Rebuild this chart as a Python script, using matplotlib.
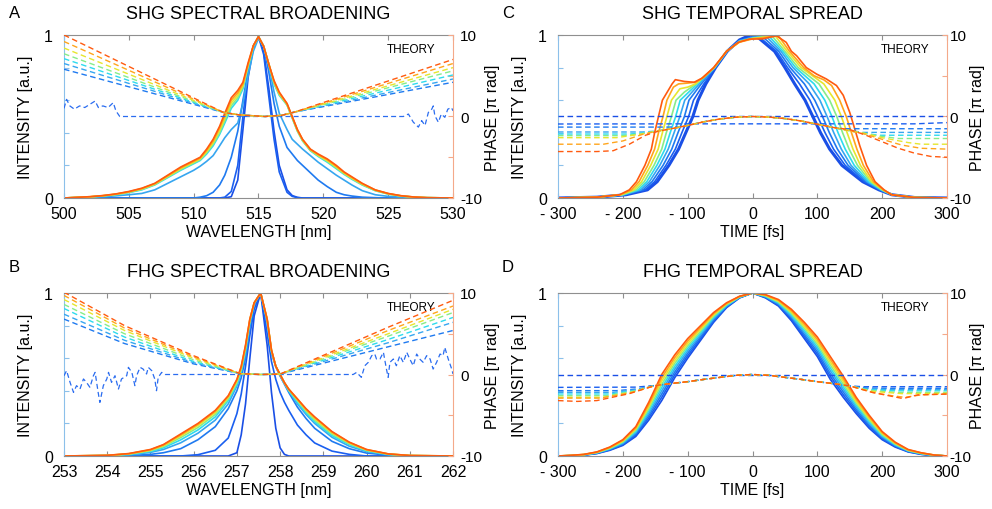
import numpy as np
import matplotlib
matplotlib.use("Agg")
import matplotlib.pyplot as plt

plt.rcParams['font.family'] = ['Liberation Sans', 'DejaVu Sans']

# ------------------------------------------------------------------ labels
panel_titles = ['SHG SPECTRAL BROADENING', 'FHG SPECTRAL BROADENING',
                'SHG TEMPORAL SPREAD', 'FHG TEMPORAL SPREAD']
panel_letters = ['A', 'B', 'C', 'D']
wl_label = 'WAVELENGTH [nm]'
time_label = 'TIME [fs]'
int_label = 'INTENSITY [a.u.]'
phase_label = 'PHASE [\u03c0 rad]'
theory_label = 'THEORY'
shg_wl_ticks = [500, 505, 510, 515, 520, 525, 530]
fhg_wl_ticks = [253, 254, 255, 256, 257, 258, 259, 260, 261, 262]
time_ticks = [-300, -200, -100, 0, 100, 200, 300]
time_ticklabels = ['- 300', '- 200', '- 100', '0', '100', '200', '300']
int_ticks = [0, 0.2, 0.4, 0.6, 0.8, 1]
int_ticklabels = ['0', '', '', '', '', '1']
phase_ticks = [-10, -5, 0, 5, 10]
phase_ticklabels = ['-10', '', '0', '', '10']

# one colour per propagation step (blue -> red)
curve_colors = ['#1a4fe6', '#1a5ff0', '#1f7af0', '#36a6f0', '#2ddbee',
                '#86ec8a', '#e6e62e', '#ffa51c', '#ff5a0f']

# ------------------------------------------------------------------ A: SHG spectrum
shg_wl = [500, 502, 503, 504, 505, 506, 507, 508, 509, 510, 510.5, 511, 511.5, 512,
          512.4, 512.9, 513.4, 513.8, 514.2, 514.6, 515, 515.4, 515.8, 516.2, 516.6,
          517.2, 517.6, 518, 518.4, 519, 519.6, 520.3, 521, 521.6, 522.2, 523, 524,
          525, 526, 527, 528, 530]
shg_spec = [
    [0,0,0,0,0,0,0,0,0,0,0,0,0,0, 0,0.008,0.11,0.42,0.74,0.92,0.99,0.9,0.67,0.41,0.2,0.05,0.015,0.004, 0,0,0,0,0,0,0,0,0,0,0,0,0,0],
    [0,0,0,0,0,0,0,0,0,0,0,0,0,0, 0.005,0.04,0.2,0.5,0.78,0.93,0.99,0.88,0.62,0.36,0.16,0.035,0.01,0.002, 0,0,0,0,0,0,0,0,0,0,0,0,0,0],
    [0,0,0,0,0,0,0,0,0,0, 0.005,0.014,0.035,0.08,0.14,0.25,0.41,0.6,0.78,0.93,0.99,0.93,0.77,0.58,0.44,0.31,0.27,0.23,0.2,0.155,0.11,0.07,0.035,0.02,0.012,0.005,0.002, 0,0,0,0,0],
    [0,0.004,0.008,0.013,0.02,0.028,0.05,0.09,0.13,0.17,0.195,0.225,0.26,0.32,0.37,0.42,0.46,0.58,0.75,0.9,0.98,0.93,0.81,0.65,0.52,0.42,0.36,0.33,0.3,0.26,0.22,0.18,0.14,0.11,0.08,0.045,0.02,0.01,0.005,0.002,0,0],
    [0,0.006,0.012,0.02,0.033,0.05,0.08,0.125,0.17,0.21,0.23,0.27,0.32,0.39,0.46,0.55,0.6,0.67,0.8,0.93,0.99,0.93,0.82,0.7,0.63,0.57,0.49,0.41,0.35,0.29,0.255,0.22,0.18,0.145,0.115,0.08,0.045,0.024,0.012,0.005,0.002,0],
    [0,0.007,0.013,0.021,0.035,0.053,0.083,0.129,0.175,0.215,0.235,0.278,0.33,0.4,0.475,0.566,0.615,0.68,0.81,0.93,0.99,0.93,0.82,0.705,0.635,0.572,0.492,0.412,0.352,0.292,0.259,0.225,0.185,0.149,0.119,0.082,0.046,0.025,0.012,0.005,0.002,0],
    [0,0.007,0.014,0.023,0.037,0.055,0.085,0.133,0.18,0.22,0.24,0.285,0.34,0.415,0.49,0.583,0.63,0.69,0.815,0.932,0.99,0.93,0.82,0.71,0.64,0.575,0.495,0.415,0.355,0.295,0.262,0.23,0.19,0.152,0.122,0.085,0.048,0.026,0.013,0.005,0.002,0],
    [0,0.008,0.014,0.024,0.038,0.058,0.088,0.136,0.185,0.225,0.245,0.293,0.35,0.43,0.505,0.6,0.645,0.7,0.82,0.934,0.99,0.93,0.82,0.715,0.645,0.578,0.498,0.418,0.358,0.298,0.266,0.235,0.195,0.156,0.126,0.088,0.049,0.027,0.013,0.006,0.002,0],
    [0,0.008,0.015,0.025,0.04,0.06,0.09,0.14,0.19,0.23,0.25,0.3,0.36,0.44,0.52,0.615,0.66,0.71,0.83,0.935,0.99,0.93,0.82,0.72,0.65,0.58,0.5,0.42,0.36,0.3,0.27,0.24,0.2,0.16,0.13,0.09,0.05,0.028,0.014,0.006,0.002,0],
]
# measured input phase (flat, noisy outside the spectrum)
shg_noise_wl = [500, 500.2, 500.45, 500.8, 501.2, 501.6, 502.0, 502.4, 502.65, 503.0, 503.4,
                503.8, 504.0, 504.3, 526.17, 526.56, 526.94, 527.33, 527.58, 527.84, 528.1,
                528.36, 528.48, 528.6, 528.87, 529.1, 529.37, 529.6, 529.88, 530]
shg_noise_phase = [1.0, 2.1, 1.3, 0.9, 1.3, 1.1, 1.5, 1.9, 1.1, 1.3, 1.1, 1.7, 0.7, 0.0, 0.0,
                   0.3, -0.7, -1.3, -0.5, -1.1, 0.5, 0.9, 1.3, 0.1, -0.7, 0.3, -0.1, 0.9, 1.1, 0.7]
# V-shaped spectral phases of steps 2..8
shg_phase_left = [5.8, 6.5, 7.1, 7.7, 8.4, 9.2, 10.0]     # at 500 nm
shg_phase_right = [4.2, 4.6, 5.1, 5.6, 6.0, 6.5, 7.0]     # at 530 nm
shg_phase_mid_wl = [512.3, 513.5, 515.5, 516.8, 517.8]
shg_phase_mid = [0.5, 0.2, 0.0, 0.15, 0.55]

# ------------------------------------------------------------------ B: FHG spectrum
fhg_wl = [253, 254, 254.5, 255, 255.3, 255.7, 256.1, 256.5, 256.8, 257.0, 257.1, 257.2,
          257.3, 257.4, 257.55, 257.7, 257.8, 257.9, 258.0, 258.1, 258.2, 258.4, 258.6,
          258.8, 259.2, 259.6, 260.0, 260.5, 261, 262]
fhg_spec = [
    [0,0,0,0,0,0,0,0,0, 0.02,0.13,0.32,0.6,0.86,1.0,0.68,0.39,0.17,0.05,0.01,0, 0,0,0,0,0,0,0,0,0],
    [0,0,0,0,0,0, 0.008,0.035,0.11,0.26,0.38,0.55,0.74,0.9,1.0,0.75,0.58,0.47,0.39,0.33,0.28,0.19,0.13,0.08,0.03,0.01, 0,0,0,0],
    [0,0,0.002,0.01,0.02,0.045,0.1,0.18,0.29,0.4,0.48,0.6,0.79,0.93,1.0,0.82,0.63,0.55,0.49,0.44,0.39,0.3,0.23,0.17,0.09,0.045,0.018,0.005,0,0],
    [0,0.002,0.007,0.022,0.04,0.081,0.14,0.22,0.32,0.43,0.51,0.63,0.81,0.934,1.0,0.83,0.64,0.55,0.495,0.445,0.4,0.32,0.255,0.2,0.115,0.06,0.027,0.008,0.001,0],
    [0,0.002,0.01,0.028,0.05,0.099,0.16,0.24,0.34,0.44,0.52,0.65,0.82,0.936,1.0,0.83,0.64,0.55,0.495,0.445,0.4,0.33,0.265,0.21,0.125,0.07,0.031,0.01,0.002,0],
    [0,0.003,0.012,0.032,0.058,0.113,0.175,0.255,0.35,0.45,0.53,0.66,0.83,0.938,1.0,0.835,0.645,0.55,0.5,0.45,0.405,0.34,0.275,0.22,0.135,0.075,0.035,0.011,0.002,0],
    [0,0.003,0.013,0.036,0.063,0.123,0.187,0.267,0.36,0.46,0.54,0.67,0.835,0.94,1.0,0.84,0.65,0.55,0.5,0.45,0.41,0.345,0.282,0.23,0.142,0.08,0.037,0.012,0.003,0],
    [0,0.004,0.014,0.038,0.068,0.13,0.195,0.275,0.366,0.467,0.546,0.676,0.84,0.94,1.0,0.84,0.65,0.55,0.5,0.45,0.41,0.35,0.287,0.236,0.147,0.083,0.039,0.013,0.003,0],
    [0,0.004,0.015,0.04,0.07,0.135,0.2,0.28,0.37,0.47,0.55,0.68,0.84,0.94,1.0,0.84,0.65,0.55,0.5,0.45,0.41,0.35,0.29,0.24,0.15,0.085,0.04,0.013,0.003,0],
]
fhg_noise_wl = [253.0, 253.06, 253.14, 253.22, 253.29, 253.37, 253.45, 253.52, 253.6, 253.68,
                253.72, 253.79, 253.83, 253.91, 253.99, 254.03, 254.1, 254.18, 254.26, 254.33,
                254.45, 254.49, 254.57, 254.64, 254.68, 254.76, 254.83, 254.91, 254.95, 255.03,
                255.1, 255.14, 255.18, 255.26, 255.34,
                259.69, 259.77, 259.88, 259.96, 260.04, 260.12, 260.19, 260.23, 260.31, 260.39,
                260.46, 260.5, 260.54, 260.62, 260.69, 260.77, 260.85, 260.93, 261.0, 261.08,
                261.16, 261.23, 261.31, 261.39, 261.47, 261.54, 261.62, 261.7, 261.77, 261.81,
                261.89, 261.97, 262.0]
fhg_noise_phase = [-0.15, 0.47, -0.96, -2.19, -1.37, -1.78, -0.55, -0.96, -1.58, -0.15,
                   0.26, -2.19, -3.42, -1.37, -0.55, 0.26, -0.96, -0.15, -1.78, -0.55,
                   -0.15, 0.88, 0.26, -1.37, -0.15, 0.88, 0.67, 0.06, 0.88, 0.47,
                   -0.55, -1.99, -0.35, 0.26, 0.0,
                   0.0, 0.26, -0.35, 1.08, 1.49, 2.31, 2.51, 1.9, 1.9, 2.72,
                   0.67, -0.35, 1.49, 1.9, 1.08, 2.31, 1.49, 2.72, 1.9, 1.08,
                   2.51, 1.9, 1.49, 2.31, 1.9, 0.67, 1.49, 2.51, 2.31, 3.33,
                   1.9, 0.67, 0.06]
fhg_phase_wl = [253, 254.4, 256.0, 257.08, 257.55, 258.0, 260.5, 262]
fhg_phase = [
    [6.8, 3.8, 1.3, 0.1, 0.0, 0.05, 3.4, 5.4],
    [7.4, 4.2, 1.45, 0.1, 0.0, 0.05, 3.9, 6.4],
    [8.1, 4.6, 1.6, 0.1, 0.0, 0.05, 4.3, 7.0],
    [8.6, 5.0, 1.8, 0.1, 0.0, 0.05, 4.7, 7.6],
    [9.2, 5.4, 2.0, 0.1, 0.0, 0.05, 5.0, 8.0],
    [9.7, 5.7, 2.15, 0.1, 0.0, 0.05, 5.4, 8.4],
    [10.1, 6.0, 2.3, 0.1, 0.0, 0.05, 5.8, 9.1],
]

# ------------------------------------------------------------------ C: SHG temporal
shg_time = [
    [-300,-240,-195,-162,-147,-129,-114,-103,-92,-84,-72,-57,-39,-20,-3,10,34,50,65,81,93,105,119,138,170,195,215,250,300],
    [-300,-240,-196,-165.5,-151,-133.5,-119,-109,-98.5,-91,-75,-57.5,-39,-20,0,8,37,54,72.5,88.6,100.4,112,125,143,172.4,196,215,250,300],
    [-300,-240,-198,-169,-155,-138,-124.5,-115,-105,-98,-79,-58,-39,-20,0,14,40.5,58,80,96,108,118.6,131,147.5,175,197,215,250,300],
    [-300,-240,-199,-172.5,-159,-143,-130,-121,-112,-104.5,-82,-58,-39.5,-20,0,20,44,62.5,87.5,104,115,125.4,137,152,177,198,215,250,300],
    [-300,-240,-200,-176,-163,-147.5,-135,-127,-118.5,-111.5,-85,-58.5,-39.5,-20,0,25,47,66.5,95,111.5,122.5,132,143,157,179.5,199,215,250,300],
    [-300,-240,-201,-179.5,-167,-152,-140,-133,-125,-118,-105,-87,-59,-40,-20,0,30,50,70.5,102.5,119,130,139,149,162,182,200,215,250,300],
    [-300,-240,-203,-183,-171,-157,-145.5,-139,-132,-125,-112,-100,-88,-59,-40,-20,0,35,53.5,75,110,127,137,146,155,166.5,184,201,215,250,300],
    [-300,-240,-204,-186.5,-175,-161.5,-151,-145,-138,-132,-122,-114,-100,-88,-75,-59.5,-40,-20,0,40,57,79,95,110,122,134.5,144.6,152.7,161,171,186.6,202,215,250,300],
    [-300,-240,-205,-190,-179,-166,-156,-151,-145,-139,-130,-124,-119,-105,-90,-78,-60,-40,-22,-5,15,37,52,60,68,83,99,114,129.5,140,150,158,165.5,176,189,203,214,250,300],
]
shg_temp = [
    [0,0.005,0.02,0.05,0.1,0.2,0.3,0.4,0.5,0.6,0.7,0.8,0.9,0.97,1.0,0.98,0.9,0.8,0.7,0.6,0.5,0.4,0.3,0.2,0.1,0.05,0.02,0.003,0],
    [0,0.005,0.02,0.05,0.1,0.2,0.3,0.4,0.5,0.6,0.7,0.8,0.9,0.965,0.99,0.995,0.9,0.8,0.7,0.6,0.5,0.4,0.3,0.2,0.1,0.05,0.02,0.003,0],
    [0,0.005,0.02,0.05,0.1,0.2,0.3,0.4,0.5,0.6,0.7,0.8,0.9,0.965,0.985,0.995,0.9,0.8,0.7,0.6,0.5,0.4,0.3,0.2,0.1,0.05,0.02,0.003,0],
    [0,0.005,0.02,0.05,0.1,0.2,0.3,0.4,0.5,0.6,0.7,0.8,0.9,0.965,0.985,0.995,0.9,0.8,0.7,0.6,0.5,0.4,0.3,0.2,0.1,0.05,0.02,0.003,0],
    [0,0.005,0.02,0.05,0.1,0.2,0.3,0.4,0.5,0.6,0.7,0.8,0.9,0.96,0.98,0.995,0.9,0.8,0.7,0.6,0.5,0.4,0.3,0.2,0.1,0.05,0.02,0.003,0],
    [0,0.005,0.02,0.05,0.1,0.2,0.3,0.4,0.5,0.6,0.65,0.7,0.8,0.9,0.96,0.98,0.995,0.9,0.8,0.7,0.6,0.5,0.4,0.3,0.2,0.1,0.05,0.02,0.003,0],
    [0,0.005,0.02,0.05,0.1,0.2,0.3,0.4,0.5,0.6,0.67,0.68,0.7,0.8,0.9,0.958,0.978,0.995,0.9,0.8,0.7,0.6,0.5,0.4,0.3,0.2,0.1,0.05,0.02,0.003,0],
    [0,0.005,0.02,0.05,0.1,0.2,0.3,0.4,0.5,0.6,0.68,0.7,0.705,0.71,0.74,0.8,0.9,0.956,0.976,0.995,0.9,0.8,0.75,0.725,0.69,0.6,0.5,0.4,0.3,0.2,0.1,0.05,0.02,0.003,0],
    [0,0.005,0.02,0.05,0.1,0.2,0.3,0.4,0.5,0.6,0.66,0.7,0.726,0.715,0.71,0.735,0.8,0.9,0.955,0.975,0.976,0.995,0.955,0.9,0.873,0.8,0.76,0.73,0.69,0.63,0.525,0.42,0.32,0.2,0.1,0.05,0.02,0.003,0],
]
# temporal phases
shg_phase_flat_t = [[-300, 300], [-300, -100, 100, 250, 300]]
shg_phase_flat = [[0, 0], [-0.92, -0.9, -0.9, -0.9, -0.75]]
shg_phase2_t = [-300, -130, -110, -100, -75, -50, -25, 0, 25, 50, 75, 100, 115, 135, 300]
shg_phase2 = [-1.3, -1.3, -1.25, -1.1, -0.65, -0.3, -0.08, 0, -0.07, -0.25, -0.55, -0.95, -1.2, -1.5, -1.5]
shg_hump_t = [-125, -100, -75, -50, -25, 0, 25, 50, 75, 100, 125]
shg_hump = [-1.5, -1.1, -0.65, -0.3, -0.08, 0, -0.07, -0.25, -0.55, -0.95, -1.35]
shg_tail_left_t = [[-300, -170, -150], [-300, -190, -165, -145], [-300, -200, -170, -148],
                   [-300, -210, -175, -150], [-300, -230, -200, -170, -150],
                   [-300, -240, -215, -190, -165, -145]]
shg_tail_left = [[-1.9, -1.9, -1.8], [-2.15, -2.15, -2.0, -1.75], [-2.35, -2.35, -2.1, -1.8],
                 [-2.6, -2.6, -2.2, -1.85], [-3.4, -3.4, -3.0, -2.2, -1.85],
                 [-4.3, -4.3, -4.2, -3.4, -2.3, -1.8]]
shg_tail_right_t = [[150, 170, 300], [150, 175, 195, 300], [150, 175, 200, 225, 300],
                    [150, 175, 200, 240, 260, 300], [150, 175, 200, 230, 260, 300],
                    [150, 175, 200, 225, 250, 275, 300]]
shg_tail_right = [[-1.7, -1.95, -1.95], [-1.75, -2.1, -2.3, -2.3], [-1.75, -2.1, -2.45, -2.7, -2.7],
                  [-1.75, -2.1, -2.6, -3.2, -3.4, -3.4], [-1.75, -2.2, -2.8, -3.5, -3.9, -4.0],
                  [-1.6, -2.3, -3.1, -3.9, -4.5, -4.9, -5.0]]

# ------------------------------------------------------------------ D: FHG temporal
fhg_time = [-300, -280, -260, -240, -220, -200, -180, -160, -140, -120, -100, -80, -60, -40, -20,
            0, 20, 40, 60, 80, 100, 120, 140, 160, 180, 200, 220, 240, 260, 280, 300]
fhg_temp = [
    [0,0.001,0.005,0.015,0.035,0.065,0.12,0.22,0.34,0.48,0.6,0.71,0.82,0.91,0.97,1.0,0.97,0.92,0.83,0.72,0.61,0.47,0.36,0.26,0.17,0.1,0.055,0.025,0.01,0.003,0],
    [0,0.001,0.006,0.016,0.038,0.069,0.128,0.234,0.36,0.498,0.615,0.721,0.828,0.914,0.971,1.0,0.973,0.925,0.839,0.733,0.625,0.488,0.376,0.273,0.18,0.106,0.059,0.027,0.011,0.003,0],
    [0,0.002,0.006,0.018,0.04,0.074,0.135,0.248,0.38,0.515,0.63,0.733,0.835,0.918,0.973,1.0,0.975,0.93,0.848,0.745,0.64,0.505,0.393,0.285,0.19,0.113,0.063,0.029,0.013,0.004,0],
    [0,0.002,0.007,0.019,0.043,0.078,0.143,0.261,0.4,0.533,0.645,0.744,0.843,0.921,0.974,1.0,0.978,0.935,0.856,0.758,0.655,0.523,0.409,0.298,0.2,0.119,0.066,0.031,0.014,0.004,0],
    [0,0.002,0.008,0.02,0.045,0.083,0.15,0.275,0.42,0.55,0.66,0.755,0.85,0.925,0.975,1.0,0.98,0.94,0.865,0.77,0.67,0.54,0.425,0.31,0.21,0.125,0.07,0.033,0.015,0.005,0],
    [0,0.003,0.008,0.021,0.048,0.087,0.158,0.289,0.44,0.568,0.675,0.766,0.858,0.929,0.976,1.0,0.983,0.945,0.874,0.783,0.685,0.558,0.441,0.323,0.22,0.131,0.074,0.034,0.016,0.005,0],
    [0,0.003,0.009,0.023,0.05,0.091,0.165,0.303,0.46,0.585,0.69,0.778,0.865,0.933,0.978,1.0,0.985,0.95,0.883,0.795,0.7,0.575,0.458,0.335,0.23,0.138,0.078,0.036,0.018,0.006,0],
    [0,0.004,0.009,0.024,0.053,0.096,0.173,0.316,0.48,0.603,0.705,0.789,0.873,0.936,0.979,1.0,0.988,0.955,0.891,0.808,0.715,0.593,0.474,0.348,0.24,0.144,0.081,0.038,0.019,0.006,0],
    [0,0.004,0.01,0.025,0.055,0.1,0.18,0.33,0.5,0.62,0.72,0.8,0.88,0.94,0.98,1.0,0.99,0.96,0.9,0.82,0.73,0.61,0.49,0.36,0.25,0.15,0.085,0.04,0.02,0.006,0],
]
fhg_hump_t = [-150, -125, -100, -75, -50, -25, 0, 25, 50, 75, 100, 125, 150]
fhg_hump = [-1.35, -1.1, -0.88, -0.6, -0.35, -0.1, 0, -0.1, -0.35, -0.6, -0.88, -1.12, -1.4]
fhg_tail_left_t = [[-300, -180], [-300, -210, -175], [-300, -215, -178], [-300, -220, -180],
                   [-300, -225, -183], [-300, -230, -185], [-300, -235, -188],
                   [-300, -270, -240, -190]]
fhg_tail_left = [[-1.58, -1.55], [-1.98, -1.98, -1.75], [-2.19, -2.19, -1.85], [-2.39, -2.39, -1.95],
                 [-2.6, -2.6, -2.05], [-2.8, -2.8, -2.15], [-2.9, -2.9, -2.25],
                 [-3.2, -3.3, -3.2, -2.35]]
fhg_tail_right_t = [[170, 300], [175, 210, 300], [175, 215, 300], [178, 220, 300],
                    [180, 225, 300], [182, 230, 300], [185, 215, 235, 260, 300],
                    [185, 210, 232, 255, 300]]
fhg_tail_right = [[-1.5, -1.5], [-1.65, -1.7, -1.7], [-1.75, -1.86, -1.86], [-1.85, -2.0, -2.0],
                  [-1.95, -2.2, -2.2], [-2.05, -2.35, -2.3], [-2.2, -2.6, -2.8, -2.5, -2.4],
                  [-2.2, -2.6, -2.95, -2.5, -2.4]]

# ------------------------------------------------------------------ figure
W, H = 992, 510
fig = plt.figure(figsize=(W / 100, H / 100), dpi=100)
LEFT_COL = '#8cc0ea'
RIGHT_COL = '#f4a98a'
FRAME_COL = '#8f8f8f'
SOLID_LW = 1.2
DASH_LW = 1.0
DASHES = (4, 2.5)


def rect(l, t, r, b):
    return [l / W, 1 - b / H, (r - l) / W, (b - t) / H]


def setup(r, xlim, xticks, xticklabels, xlabel, title, letter, letter_xy,
          rpad=5, rlabelpad=2):
    ax = fig.add_axes(r)
    ax.set_xlim(*xlim)
    ax.set_ylim(0, 1)
    ax2 = ax.twinx()
    ax2.set_ylim(-10, 10)
    ax.set_xticks(xticks)
    ax.set_xticklabels(xticklabels, fontsize=11.5)
    ax.set_yticks(int_ticks)
    ax.set_yticklabels(int_ticklabels, fontsize=11.5)
    ax2.set_yticks(phase_ticks)
    ax2.set_yticklabels(phase_ticklabels, fontsize=11)
    ax.tick_params(axis='x', direction='in', top=True, length=3.5, width=0.8,
                   color=FRAME_COL, pad=6)
    ax.tick_params(axis='y', direction='in', length=3.5, width=0.8, color=LEFT_COL, pad=8)
    ax2.tick_params(axis='y', direction='in', length=3.5, width=0.8, color=RIGHT_COL, pad=rpad)
    for s in ['top', 'bottom']:
        ax.spines[s].set_color(FRAME_COL)
        ax.spines[s].set_linewidth(0.8)
    ax.spines['left'].set_color(LEFT_COL)
    ax.spines['right'].set_visible(False)
    for s in ['top', 'bottom', 'left']:
        ax2.spines[s].set_visible(False)
    ax2.spines['right'].set_color(RIGHT_COL)
    ax.set_xlabel(xlabel, fontsize=11.5, labelpad=2)
    ax.set_ylabel(int_label, fontsize=11.5, labelpad=8)
    ax2.set_ylabel(phase_label, fontsize=11.5, labelpad=rlabelpad)
    ax.set_title(title, fontsize=13, pad=12)
    ax.text(0.955, 0.915, theory_label, transform=ax.transAxes, ha='right',
            va='center', fontsize=8.5)
    fig.text(letter_xy[0] / W, 1 - letter_xy[1] / H, letter, fontsize=12,
             ha='left', va='center')
    return ax, ax2


def dashed(ax2, x, y, color, lw=DASH_LW):
    ax2.plot(x, y, color=color, lw=lw, linestyle=(0, DASHES))


# ---- A
axA, axA2 = setup(rect(64, 36, 453, 199), (500, 530), shg_wl_ticks,
                  [str(v) for v in shg_wl_ticks], wl_label, panel_titles[0], 'A', (9, 14))
for k, spec in enumerate(shg_spec):
    axA.plot(shg_wl, spec, color=curve_colors[k], lw=SOLID_LW)
dashed(axA2, shg_noise_wl, shg_noise_phase, '#2a6cf0', lw=0.9)
for j in range(len(shg_phase_left)):
    x = [500] + shg_phase_mid_wl + [530]
    y = [shg_phase_left[j]] + shg_phase_mid + [shg_phase_right[j]]
    dashed(axA2, x, y, curve_colors[j + 2])

# ---- B
axB, axB2 = setup(rect(64, 294, 453, 457), (253, 262), fhg_wl_ticks,
                  [str(v) for v in fhg_wl_ticks], wl_label, panel_titles[1], 'B', (9, 268))
for k, spec in enumerate(fhg_spec):
    axB.plot(fhg_wl, spec, color=curve_colors[k], lw=SOLID_LW)
dashed(axB2, fhg_noise_wl, fhg_noise_phase, '#2a6cf0', lw=0.9)
for j, ph in enumerate(fhg_phase):
    dashed(axB2, fhg_phase_wl, ph, curve_colors[j + 2])

# ---- C
axC, axC2 = setup(rect(558, 36, 947, 199), (-300, 300), time_ticks, time_ticklabels,
                  time_label, panel_titles[2], 'C', (502, 13), rpad=2, rlabelpad=-1)
for k in range(len(shg_temp)):
    axC.plot(shg_time[k], shg_temp[k], color=curve_colors[k],
             lw=2.2 if k == 0 else SOLID_LW)
for k in range(2):
    dashed(axC2, shg_phase_flat_t[k], shg_phase_flat[k], curve_colors[k])
dashed(axC2, shg_phase2_t, shg_phase2, curve_colors[2])
for j in range(len(shg_tail_left)):
    x = shg_tail_left_t[j] + shg_hump_t + shg_tail_right_t[j]
    y = shg_tail_left[j] + shg_hump + shg_tail_right[j]
    dashed(axC2, x, y, curve_colors[j + 3])

# ---- D
axD, axD2 = setup(rect(558, 294, 947, 457), (-300, 300), time_ticks, time_ticklabels,
                  time_label, panel_titles[3], 'D', (502, 268), rpad=2, rlabelpad=-1)
for k, prof in enumerate(fhg_temp):
    axD.plot(fhg_time, prof, color=curve_colors[k], lw=SOLID_LW)
dashed(axD2, [-300, 300], [0, 0], curve_colors[0])
for j in range(len(fhg_tail_left)):
    x = fhg_tail_left_t[j] + fhg_hump_t + fhg_tail_right_t[j]
    y = fhg_tail_left[j] + fhg_hump + fhg_tail_right[j]
    dashed(axD2, x, y, curve_colors[j + 1])

fig.savefig('out.png', dpi=100, facecolor='white')
